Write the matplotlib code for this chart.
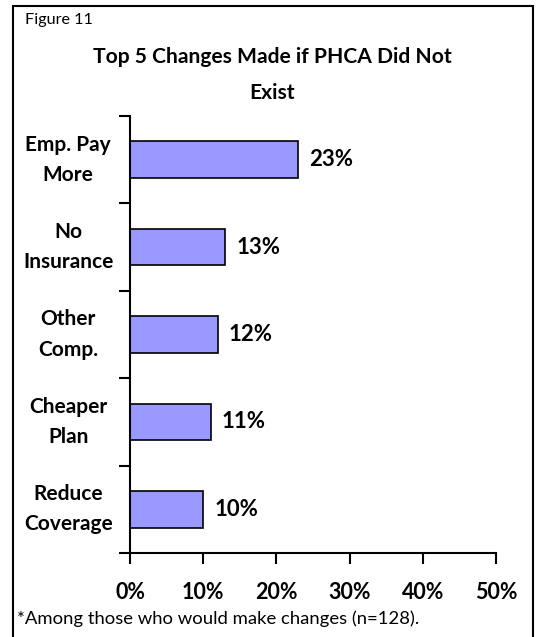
import matplotlib.pyplot as plt
from matplotlib.patches import Rectangle

# ---------------------------------------------------
# DATA
# ---------------------------------------------------

categories = ["Emp. Pay\nMore", "No\nInsurance", "Other\nComp.", "Cheaper\nPlan", "Reduce\nCoverage"]
values = [23, 13, 12, 11, 10]
x_ticks = [0, 10, 20, 30, 40, 50]
x_tick_labels = ["0%", "10%", "20%", "30%", "40%", "50%"]

plt.rcParams["font.family"] = ["Lato", "DejaVu Sans"]

W, H = 538, 637
fig = plt.figure(figsize=(W / 100, H / 100), dpi=100)

# outer frame
fig.patches.append(Rectangle((13 / W, -0.02), 520 / W, 1.02 - 6 / H,
                             transform=fig.transFigure, fill=False,
                             edgecolor="black", linewidth=1.5))

ax = fig.add_axes([130 / W, (H - 553) / H, (496 - 130) / W, (553 - 116) / H])

pos = list(range(len(categories)))
ax.barh(pos, values, height=0.42, color="#9999FF", edgecolor="black", linewidth=1.2)

for p, v in zip(pos, values):
    ax.text(v + 1.5, p, f"{v}%", va="center", ha="left",
            fontsize=16, fontweight="bold")

ax.set_xlim(0, 50)
ax.set_ylim(len(categories) - 0.5, -0.5)
ax.set_xticks(x_ticks)
ax.set_xticklabels(x_tick_labels, fontsize=15.5, fontweight="bold")
ax.set_yticks([p - 0.5 for p in pos] + [len(categories) - 0.5])
ax.set_yticklabels([])
ax.tick_params(axis="x", direction="out", length=8, width=1.5, pad=13)
ax.tick_params(axis="y", direction="out", length=8, width=1.5)

for s in ["top", "right"]:
    ax.spines[s].set_visible(False)
for s in ["left", "bottom"]:
    ax.spines[s].set_linewidth(1.5)

# category labels centred left of the axis
for p, c in zip(pos, categories):
    ax.text(-0.169, p, c, transform=ax.get_yaxis_transform(),
            ha="center", va="center", fontsize=15, fontweight="bold",
            linespacing=1.64)

fig.text(25 / W, 1 - 20 / H, "Figure 11", fontsize=11.6, va="center", ha="left")
fig.text(272 / W, 1 - 75 / H, "Top 5 Changes Made if PHCA Did Not\nExist",
         fontsize=15.1, fontweight="bold", ha="center", va="center", linespacing=2.05)
fig.text(17 / W, 1 - 619 / H, "*Among those who would make changes (n=128).",
         fontsize=13.3, va="center", ha="left")

fig.savefig("out.png", dpi=100)
